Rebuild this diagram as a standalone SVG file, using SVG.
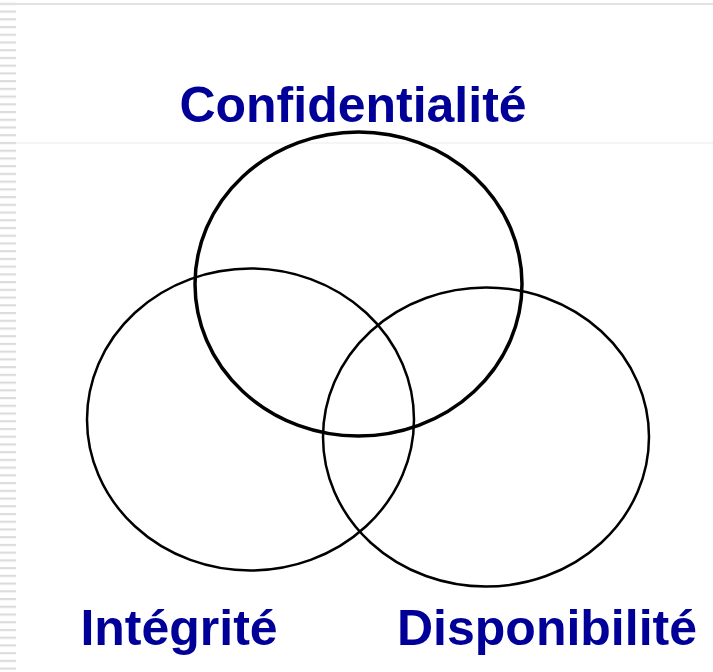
<svg xmlns="http://www.w3.org/2000/svg" width="713" height="672" viewBox="0 0 713 672">
  <defs>
    <pattern id="stripes" x="0" y="0" width="16" height="7.73" patternUnits="userSpaceOnUse" patternTransform="translate(0,10.5)">
      <rect x="0" y="0" width="16" height="2.2" fill="#dcdcdc"/>
    </pattern>
  </defs>
  <style>
    .ring { fill: none; stroke: #000; }
    .label { font-family: "Liberation Sans", Arial, sans-serif; font-weight: bold; font-size: 50px; fill: #000099; }
  </style>
  <rect width="713" height="672" fill="#fff"/>
  <!-- page frame -->
  <rect x="0" y="0" width="16" height="672" fill="url(#stripes)"/>
  <rect x="0" y="3" width="713" height="2" fill="#e2e2e2"/>
  <rect x="16" y="142.5" width="697" height="1" fill="#ececec"/>

  <g id="confidentialite">
    <ellipse class="ring" cx="358.5" cy="284" rx="163.5" ry="152" stroke-width="3.5"/>
    <text class="label" x="353" y="122" text-anchor="middle">Confidentialité</text>
  </g>
  <g id="integrite">
    <ellipse class="ring" cx="250.5" cy="419.5" rx="163.5" ry="151" stroke-width="2.5"/>
    <text class="label" x="179" y="645" text-anchor="middle">Intégrité</text>
  </g>
  <g id="disponibilite">
    <ellipse class="ring" cx="486" cy="437" rx="163" ry="149.5" stroke-width="2.5"/>
    <text class="label" x="547" y="645" text-anchor="middle">Disponibilité</text>
  </g>
  <g id="connectors"/>
</svg>
